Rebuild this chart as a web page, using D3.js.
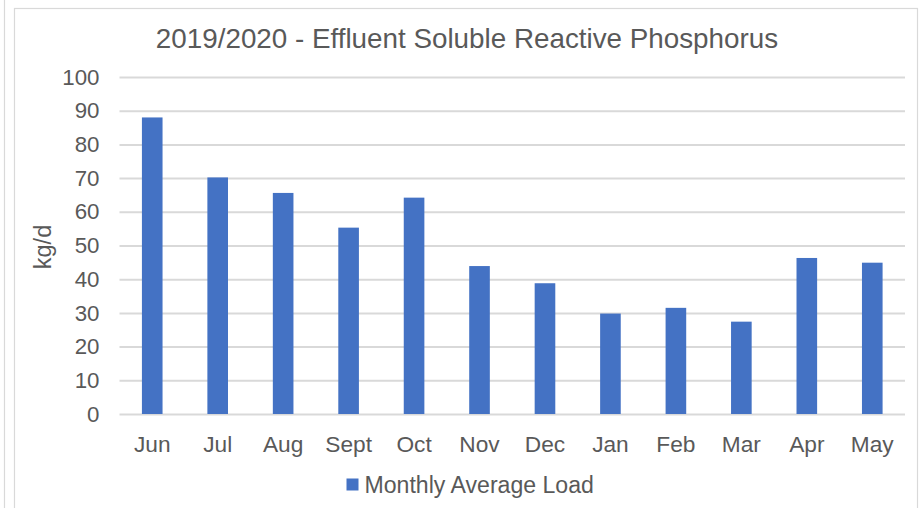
<!DOCTYPE html>
<html><head><meta charset="utf-8">
<script src="https://cdn.jsdelivr.net/npm/d3@7"></script>
<style>
html,body{margin:0;padding:0;background:#fff;}
svg{display:block;font-family:"Liberation Sans",Arial,sans-serif;}
</style></head>
<body>
<svg id="chart" width="920" height="508"></svg>
<script>
const title = "2019/2020 - Effluent Soluble Reactive Phosphorus";
const months = ["Jun","Jul","Aug","Sept","Oct","Nov","Dec","Jan","Feb","Mar","Apr","May"];
const monthlyAverageLoad = [88.0, 70.2, 65.6, 55.3, 64.2, 43.9, 38.8, 29.8, 31.5, 27.4, 46.3, 44.9];
const yTicks = [0,10,20,30,40,50,60,70,80,90,100];
const seriesName = "Monthly Average Load";
const yAxisTitle = "kg/d";

const svg = d3.select("#chart");
const W = 920, H = 508;
const m = {left:119.5, right:905, top:77, bottom:414};
const text = "#595959";

// frame
svg.append("line").attr("x1",4.5).attr("x2",4.5).attr("y1",0).attr("y2",H)
  .attr("stroke","#d9d9d9").attr("stroke-width",1.2);
svg.append("rect").attr("x",14.5).attr("y",8.5).attr("width",903).attr("height",H)
  .attr("fill","#fff").attr("stroke","#d9d9d9").attr("stroke-width",1.2);

const x = d3.scaleBand().domain(months).range([m.left, m.right]).padding(0);
const y = d3.scaleLinear().domain([0,100]).range([m.bottom, m.top]);

// gridlines
const yAxis = d3.axisLeft(y).tickValues(yTicks).tickSize(-(m.right-m.left)).tickPadding(20).tickFormat(d3.format("d"));
const gy = svg.append("g").attr("transform",`translate(${m.left},0)`).call(yAxis);
gy.select(".domain").remove();
gy.selectAll(".tick line").attr("stroke","#d9d9d9").attr("stroke-width",2);
gy.selectAll(".tick text").attr("fill",text).attr("font-size",22.3).attr("font-family","Liberation Sans, Arial, sans-serif");

// bars
const bw = x.step()*0.315;
svg.append("g").selectAll("rect").data(monthlyAverageLoad).join("rect")
  .attr("x",(d,i)=>x(months[i]) + x.bandwidth()/2 - bw/2)
  .attr("width",bw)
  .attr("y",d=>y(d))
  .attr("height",d=>y(0)-y(d))
  .attr("fill","#4472C4");

// x axis
const xAxis = d3.axisBottom(x).tickSize(0).tickPadding(22);
const gx = svg.append("g").attr("transform",`translate(0,${m.bottom})`).call(xAxis);
gx.select(".domain").remove();
gx.selectAll(".tick text").attr("fill",text).attr("font-size",22.7).attr("font-family","Liberation Sans, Arial, sans-serif");

// axis title
svg.append("text").attr("transform","translate(51,247) rotate(-90)")
  .attr("text-anchor","middle").attr("fill",text).attr("font-size",23.5).text(yAxisTitle);

// title
svg.append("text").attr("x",467).attr("y",47.5).attr("text-anchor","middle")
  .attr("fill",text).attr("font-size",27.8).text(title);

// legend
const lg = svg.append("g");
lg.append("rect").attr("x",346.5).attr("y",478.5).attr("width",12).attr("height",12).attr("fill","#4472C4");
lg.append("text").attr("x",364.5).attr("y",493).attr("fill",text).attr("font-size",23.1).text(seriesName);
</script>
</body></html>
